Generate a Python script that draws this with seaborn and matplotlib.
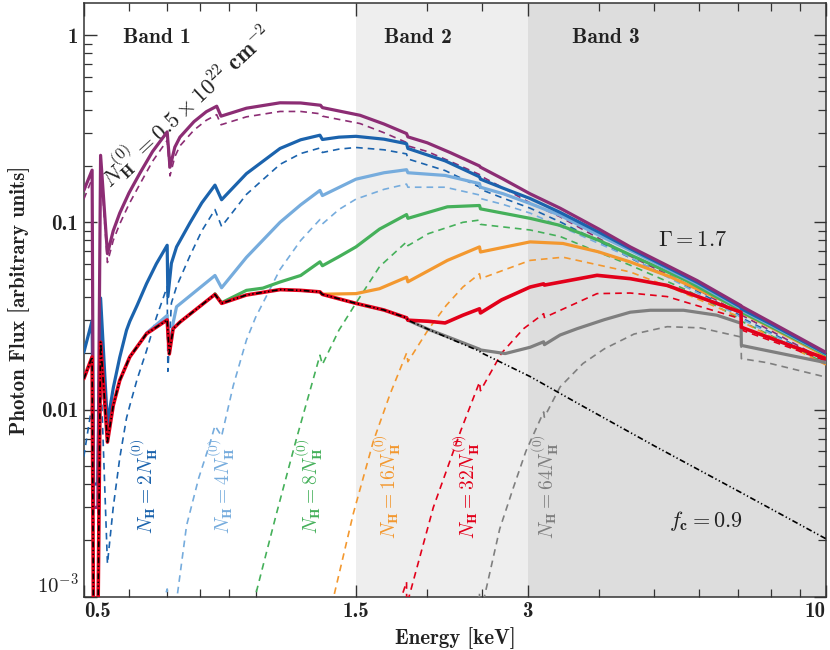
import matplotlib
matplotlib.use("Agg")
import matplotlib.pyplot as plt
import seaborn as sns
from matplotlib.ticker import FixedLocator, FixedFormatter, NullFormatter, LogLocator

# energies (keV) and photon flux
# N_H = N_H^(0)  (purple): total (solid) and covered part (dashed)
e1 = [0.500, 0.517, 0.520, 0.529, 0.535, 0.550, 0.563, 0.578, 0.600, 0.627, 0.660, 0.700,
      0.708, 0.722, 0.737, 0.780, 0.820, 0.855, 0.870, 0.964, 1.104, 1.200, 1.300, 1.310,
      1.525, 1.680, 1.840, 1.850, 2.000, 2.200, 2.470, 2.480, 2.720, 3.030, 3.420, 4.000,
      4.540, 5.950, 7.100, 7.110, 8.000, 10.00]
tot1 = [0.148, 0.190, 0.003, 0.003, 0.228, 0.068, 0.090, 0.112, 0.1435, 0.183, 0.239, 0.304,
        0.197, 0.252, 0.285, 0.345, 0.390, 0.417, 0.369, 0.407, 0.435, 0.434, 0.422, 0.410,
        0.373, 0.335, 0.298, 0.286, 0.266, 0.235, 0.200, 0.197, 0.170, 0.142, 0.119, 0.092,
        0.0739, 0.0488, 0.0359, 0.0356, 0.0293, 0.0202]
cov1 = [0.133, 0.171, 0.0024, 0.0024, 0.205, 0.061, 0.080, 0.098, 0.125, 0.160, 0.212, 0.274,
        0.177, 0.224, 0.256, 0.311, 0.351, 0.376, 0.332, 0.366, 0.391, 0.391, 0.380, 0.369,
        0.337, 0.301, 0.267, 0.256, 0.239, 0.211, 0.180, 0.177, 0.1525, 0.127, 0.107, 0.082,
        0.066, 0.0439, 0.0323, 0.0320, 0.0264, 0.0182]

# N_H = 2 N_H^(0)  (blue)
e2 = [0.500, 0.517, 0.520, 0.529, 0.535, 0.550, 0.563, 0.578, 0.594, 0.602, 0.620, 0.644,
      0.670, 0.700, 0.702, 0.712, 0.727, 0.767, 0.805, 0.849, 0.872, 0.964, 1.104, 1.200,
      1.297, 1.310, 1.400, 1.500, 1.680, 1.840, 1.850, 2.150, 2.470, 2.480, 2.720, 3.030,
      3.420, 4.000, 4.540, 5.950, 7.100, 7.110, 8.000, 10.00]
tot2 = [0.0202, 0.0298, 0.004, 0.004, 0.0394, 0.0084, 0.013, 0.019, 0.0265, 0.0296, 0.036, 0.047,
        0.060, 0.0754, 0.040, 0.0604, 0.0739, 0.099, 0.127, 0.158, 0.132, 0.182, 0.248, 0.276,
        0.292, 0.277, 0.285, 0.288, 0.278, 0.263, 0.248, 0.213, 0.175, 0.170, 0.152, 0.134,
        0.113, 0.0886, 0.0723, 0.0478, 0.0352, 0.0345, 0.0287, 0.0199]
cov2 = [0.0056, 0.0107, 0.0034, 0.0034, 0.0165, 0.0015, 0.0030, 0.0055, 0.0090, 0.0105, 0.0145, 0.0206,
        0.031, 0.0453, 0.016, 0.037, 0.0454, 0.066, 0.090, 0.117, 0.095, 0.141, 0.204, 0.233,
        0.2495, 0.236, 0.246, 0.251, 0.244, 0.232, 0.218, 0.189, 0.1545, 0.150, 0.1345, 0.119,
        0.1006, 0.079, 0.0645, 0.0429, 0.0316, 0.0309, 0.0258, 0.0179]

# N_H = 4 N_H^(0)  (light blue)
e4 = [0.644, 0.700, 0.706, 0.717, 0.727, 0.849, 0.872, 0.964, 1.104, 1.200, 1.297, 1.310,
      1.500, 1.680, 1.840, 1.850, 2.150, 2.470, 2.480, 2.720, 3.030, 3.420, 4.000, 4.540,
      5.950, 7.100, 7.110, 8.000, 10.00]
tot4 = [0.0256, 0.0318, 0.021, 0.029, 0.0354, 0.052, 0.0447, 0.065, 0.100, 0.124, 0.148, 0.139,
        0.170, 0.184, 0.191, 0.184, 0.178, 0.161, 0.154, 0.142, 0.126, 0.109, 0.0853, 0.0708,
        0.047, 0.0347, 0.034, 0.0283, 0.0198]
e4c = [0.680, 0.700, 0.702, 0.727, 0.757, 0.795, 0.832, 0.849, 0.872, 0.914, 0.964, 1.000,
       1.104, 1.200, 1.297, 1.310, 1.400, 1.500, 1.680, 1.840, 1.850, 2.150, 2.470, 2.480,
       2.720, 3.030, 4.540, 5.950, 7.100, 7.110, 8.000, 10.00]
cov4 = [0.0008, 0.0011, 0.0005, 0.00095, 0.0024, 0.0043, 0.0066, 0.0082, 0.0072, 0.0134, 0.0235, 0.031,
        0.056, 0.080, 0.1035, 0.098, 0.117, 0.133, 0.150, 0.160, 0.154, 0.154, 0.140, 0.134,
        0.1245, 0.112, 0.065, 0.042, 0.0311, 0.0304, 0.0254, 0.0178]

# N_H = 8 N_H^(0)  (green)
e8 = [0.849, 0.872, 0.964, 1.030, 1.104, 1.200, 1.297, 1.310, 1.400, 1.500, 1.650, 1.840,
      1.850, 2.170, 2.470, 2.480, 3.030, 3.420, 4.000, 4.540, 5.700, 7.100, 7.110, 8.000, 10.00]
tot8 = [0.0415, 0.0372, 0.0433, 0.0445, 0.0480, 0.0520, 0.0615, 0.0586, 0.0655, 0.0739, 0.092, 0.110,
        0.105, 0.121, 0.123, 0.118, 0.105, 0.0963, 0.0801, 0.067, 0.0488, 0.0339, 0.0332, 0.0278, 0.0196]
e8c = [0.980, 1.030, 1.089, 1.180, 1.245, 1.297, 1.310, 1.400, 1.500, 1.650, 1.840, 1.850,
       2.010, 2.310, 2.470, 2.480, 3.030, 3.420, 4.540, 5.700, 7.100, 7.110, 8.000, 10.00]
cov8 = [0.0008, 0.00145, 0.0028, 0.0070, 0.0125, 0.0195, 0.0174, 0.0265, 0.037, 0.058, 0.0786, 0.075,
        0.087, 0.100, 0.1028, 0.0975, 0.091, 0.084, 0.059, 0.0435, 0.0303, 0.0296, 0.0249, 0.0176]

# N_H = 16 N_H^(0)  (orange)
e16 = [1.297, 1.310, 1.500, 1.650, 1.840, 1.850, 2.170, 2.470, 2.480, 3.030, 3.460, 3.990,
       4.540, 5.330, 7.100, 7.110, 8.000, 10.00]
tot16 = [0.0425, 0.0413, 0.0416, 0.0442, 0.0509, 0.0481, 0.0626, 0.0739, 0.0694, 0.0786, 0.0771, 0.0696,
         0.0614, 0.0512, 0.0345, 0.0330, 0.0275, 0.0193]
e16c = [1.360, 1.485, 1.610, 1.720, 1.840, 1.850, 2.010, 2.160, 2.310, 2.470, 2.480, 3.030,
        3.460, 4.540, 5.330, 7.100, 7.110, 8.000, 10.00]
cov16 = [0.0009, 0.0028, 0.0068, 0.0120, 0.0200, 0.0180, 0.0268, 0.036, 0.0451, 0.0531, 0.0500, 0.0626,
         0.0651, 0.0543, 0.045, 0.031, 0.0295, 0.0246, 0.0173]

# N_H = 32 N_H^(0)  (red)
e32 = [0.500, 0.517, 0.520, 0.529, 0.535, 0.550, 0.563, 0.578, 0.602, 0.644, 0.700, 0.706,
       0.717, 0.737, 0.849, 0.872, 0.964, 1.104, 1.200, 1.297, 1.310, 1.500, 1.680, 1.840,
       1.850, 2.010, 2.150, 2.310, 2.470, 2.480, 2.700, 3.030, 3.200, 3.210, 3.970, 4.540,
       5.270, 7.100, 7.110, 10.00]
tot32 = [0.0146, 0.0191, 0.0006, 0.0006, 0.0229, 0.0067, 0.0105, 0.0143, 0.0191, 0.0254, 0.0301, 0.0198,
         0.0270, 0.0293, 0.0412, 0.0369, 0.0409, 0.0437, 0.0433, 0.0425, 0.0412, 0.0369, 0.0340, 0.0309,
         0.0300, 0.0296, 0.0290, 0.0319, 0.0345, 0.0328, 0.0385, 0.0451, 0.0469, 0.0462, 0.0521, 0.0500,
         0.0460, 0.0331, 0.0275, 0.0187]
e32c = [1.760, 1.840, 1.842, 1.850, 2.050, 2.150, 2.290, 2.470, 2.480, 2.700, 2.950, 3.200,
        3.210, 3.970, 4.540, 5.270, 7.100, 7.110, 10.00]
cov32 = [0.0008, 0.0012, 0.0006, 0.00095, 0.0030, 0.0045, 0.0077, 0.0140, 0.0126, 0.0200, 0.0270, 0.0325,
         0.0310, 0.0416, 0.0419, 0.0401, 0.0305, 0.0266, 0.0182]

# N_H = 64 N_H^(0)  (grey)
e64 = [1.840, 1.850, 2.010, 2.470, 2.480, 2.740, 3.030, 3.200, 3.210, 3.420, 3.660, 4.090,
       4.540, 4.920, 5.630, 6.440, 7.100, 7.110, 10.00]
tot64 = [0.0309, 0.0300, 0.0268, 0.0210, 0.0208, 0.0199, 0.0215, 0.0230, 0.0222, 0.0250, 0.0270, 0.0302,
         0.0331, 0.0339, 0.0339, 0.0319, 0.0289, 0.0220, 0.0178]
e64c = [2.440, 2.470, 2.472, 2.500, 2.680, 2.830, 2.980, 3.200, 3.210, 3.420, 3.750, 4.090,
        4.610, 5.270, 6.030, 7.100, 7.110, 7.880, 10.00]
cov64 = [0.0008, 0.00105, 0.0006, 0.0009, 0.0023, 0.0038, 0.0060, 0.0097, 0.0091, 0.0132, 0.0176, 0.0211,
         0.0253, 0.0277, 0.0273, 0.0244, 0.0187, 0.0178, 0.0149]

# uncovered fraction (1 - f_c), dash-dot
e_leak = [0.500, 0.517, 0.520, 0.529, 0.535, 0.550, 0.563, 0.578, 0.602, 0.644, 0.700, 0.706,
          0.717, 0.737, 0.849, 0.872, 0.964, 1.104, 1.200, 1.297, 1.310, 1.500, 1.680, 1.840,
          1.850, 2.010, 2.200, 2.470, 2.480, 3.030, 3.710, 5.000, 7.100, 10.00]
f_leak = [0.0146, 0.0191, 0.0006, 0.0006, 0.0229, 0.0067, 0.0105, 0.0143, 0.0191, 0.0254, 0.0301, 0.0198,
          0.0270, 0.0293, 0.0412, 0.0369, 0.0409, 0.0437, 0.0433, 0.0425, 0.0412, 0.0369, 0.0340, 0.0309,
          0.0300, 0.0268, 0.0238, 0.0205, 0.0202, 0.0150, 0.0106, 0.0064, 0.0036, 0.00204]

col1 = "#8c2d74"
col2 = "#1b63ad"
col4 = "#76acdd"
col8 = "#45b05a"
col16 = "#f3982f"
col32 = "#e2001a"
col64 = "#7f7f7f"

sns.set_theme(style="ticks")
plt.rcParams["font.family"] = ["cmb10", "DejaVu Serif"]
plt.rcParams["mathtext.fontset"] = "cm"
plt.rcParams["axes.unicode_minus"] = False
plt.rcParams["axes.formatter.use_mathtext"] = True

fig, ax = plt.subplots(figsize=(8.3, 6.5), dpi=100)
fig.subplots_adjust(left=0.101, right=0.995, top=0.995, bottom=0.082)

ax.set_xscale("log")
ax.set_yscale("log")

ax.axvspan(1.5, 3, color="#eeeeee", zorder=0, lw=0)
ax.axvspan(3, 10, color="#dddddd", zorder=0, lw=0)

dash = (0, (4, 3))
covered = [(e1, cov1, col1), (e2, cov2, col2), (e4c, cov4, col4), (e8c, cov8, col8),
           (e16c, cov16, col16), (e32c, cov32, col32), (e64c, cov64, col64)]
for e, f, c in covered:
    sns.lineplot(x=e, y=f, ax=ax, color=c, linewidth=1.2, linestyle=dash,
                 sort=False, estimator=None, zorder=3)

totals = [(e64, tot64, col64), (e16, tot16, col16), (e8, tot8, col8), (e4, tot4, col4),
          (e2, tot2, col2), (e1, tot1, col1)]
for e, f, c in totals:
    sns.lineplot(x=e, y=f, ax=ax, color=c, linewidth=2.3, sort=False, estimator=None, zorder=4)
sns.lineplot(x=e32, y=tot32, ax=ax, color=col32, linewidth=2.6, sort=False, estimator=None, zorder=5)

sns.lineplot(x=e_leak, y=f_leak, ax=ax, color="black", linewidth=1.2,
             linestyle=(0, (3.5, 1.5, 0.8, 1.5, 0.8, 1.5)), sort=False, estimator=None, zorder=6)

ax.set_xlim(0.5, 10)
ax.set_ylim(1e-3, 1.48)

ax.xaxis.set_major_locator(FixedLocator([0.5, 1.5, 3, 10]))
ax.xaxis.set_major_formatter(FixedFormatter(["0.5", "1.5", "3", "10"]))
ax.xaxis.set_minor_locator(FixedLocator([0.6, 0.7, 0.8, 0.9, 1, 2, 2.5, 4, 5, 6, 7, 8, 9]))
ax.xaxis.set_minor_formatter(NullFormatter())
ax.yaxis.set_major_locator(FixedLocator([1e-3, 1e-2, 1e-1, 1]))
ax.yaxis.set_major_formatter(FixedFormatter([r"$\mathbf{10^{-3}}$", "0.01", "0.1", "1"]))
ax.yaxis.set_minor_locator(LogLocator(base=10, subs=[2, 3, 4, 5, 6, 7, 8, 9]))
ax.yaxis.set_minor_formatter(NullFormatter())

ax.tick_params(which="both", direction="in", top=True, right=True, color="#333333",
               labelsize=15, labelcolor="#222222")
ax.tick_params(which="major", length=9, width=1.0, pad=4)
ax.tick_params(which="minor", length=5.5, width=0.9)
xt = ax.xaxis.get_major_ticks()
xt[0].label1.set_horizontalalignment("left")
xt[-1].label1.set_horizontalalignment("right")
ax.yaxis.get_major_ticks()[0].label1.set_verticalalignment("bottom")
for s in ax.spines.values():
    s.set_color("#333333")
    s.set_linewidth(1.1)

ax.set_xlabel("Energy [keV]", fontsize=15, color="#222222", labelpad=4)
ax.set_ylabel("Photon Flux [arbitrary units]", fontsize=15, color="#222222", labelpad=5)

ink = "#222222"
ax.text(0.672, 0.97, "Band 1", fontsize=15.5, color=ink, ha="center", va="center")
ax.text(1.93, 0.97, "Band 2", fontsize=15.5, color=ink, ha="center", va="center")
ax.text(4.11, 0.97, "Band 3", fontsize=15.5, color=ink, ha="center", va="center")
ax.text(0.755, 0.417, r"$N_{\mathbf{H}}^{(0)} = \mathbf{0.5}\times\mathbf{10^{22}\ cm^{-2}}$",
        fontsize=16.5, color=ink, rotation=43, rotation_mode="anchor", ha="center", va="center")
ax.text(5.83, 0.080, r"$\mathbf{\Gamma = 1.7}$", fontsize=16, color=ink, ha="center", va="center")
ax.text(6.17, 0.00255, r"$f_{\mathbf{c}} = \mathbf{0.9}$", fontsize=16, color=ink, ha="center", va="center")

labels = [(0.637, "2", col2), (0.870, "4", col4), (1.241, "8", col8),
          (1.705, "16", col16), (2.345, "32", col32), (3.22, "64", col64)]
for x, n, c in labels:
    ax.text(x, 0.0039, r"$N_{\mathbf{H}} = \mathbf{%s}N_{\mathbf{H}}^{(0)}$" % n, fontsize=14,
            color=c, rotation=90, rotation_mode="anchor", ha="center", va="center")

fig.savefig("out.png", dpi=100)
